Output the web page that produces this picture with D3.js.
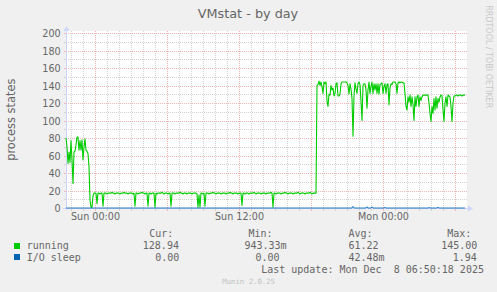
<!DOCTYPE html>
<html><head><meta charset="utf-8">
<script src="https://cdn.jsdelivr.net/npm/d3@7"></script>
<style>
html,body{margin:0;padding:0;background:#F0F0F0;}
svg{display:block;}
text.pre{white-space:pre;}
</style></head><body>
<svg id="chart" width="497" height="292"></svg>
<script>
const title = "VMstat - by day";
const yLabel = "process states";
const seriesNames = ["running", "I/O sleep"];
const seriesColors = ["#00CC00", "#0066B3"];
const startUTC = Date.UTC(2025, 11, 6, 21, 35);
const stepMinutes = 5;

const running = [
80,70,51,64,52,77,55,28,64,65,72,81,81,66,77,66,78,55,70,79,
66,65,62,47,9,1,1,14,17,17,17,5,17,17,16,17,17,2,17,17,
17,16,17,17,17,17,18,17,17,16,17,17,17,17,16,17,17,17,18,17,
17,17,16,17,17,17,17,16,17,2,17,17,16,17,17,17,18,17,17,16,
17,17,2,17,17,16,17,17,17,0.94,17,16,17,17,17,17,18,17,16,17,
17,17,16,17,17,2,17,17,17,16,17,17,17,17,18,17,17,16,17,17,
17,16,17,17,17,17,16,17,17,17,17,16,1,15,1,17,17,16,17,2,
17,17,17,16,17,17,17,18,17,17,16,17,17,17,17,16,17,17,17,17,
16,17,17,17,18,17,17,16,17,17,17,17,16,17,17,17,3,17,17,16,
17,17,17,16,17,17,17,17,18,17,16,17,17,17,17,16,17,17,17,17,
16,17,17,17,17,18,17,1,17,17,16,17,17,17,17,16,17,17,17,18,
17,17,16,17,17,17,17,16,17,17,17,17,18,17,16,17,17,17,17,16,
17,17,17,17,18,17,16,17,17,17,17,140,141,145,140,144,139,131,144,142,
144,122,116,130,129,140,135,137,128,131,142,143,128,128,130,142,144,144,144,144,
144,143,140,130,142,136,125,82,128,143,136,131,142,144,141,122,100,140,142,142,
135,114,135,144,131,139,144,131,142,135,142,131,142,130,141,142,143,131,139,142,
131,141,142,118,137,142,141,144,144,144,142,131,143,144,143,144,144,143,143,131,
116,112,127,121,129,116,127,118,100,127,116,127,129,116,127,123,127,129,129,129,
129,129,129,120,108,99,116,108,125,112,127,114,125,121,127,129,128,112,99,120,
127,116,129,128,127,116,99,120,128,128,129,129,128,129,129,129,128,129,129,128.94
];

const ioSleep = [
0,0,0,0,0,0,0,0,0,0,0,0,0,0,0,0,0,0,0,0,
0,0,0,0,0,0,0,0,0,0,0,0,0,0,0,0,0,0,0,0,
0,0,0,0,0,0,0,0,0,0,0,0,0,0,0,0,0,0,0,0,
0,0,0,0,0,0,0,0,0,0,0,0,0,0,0,0,0,0,0,0,
0,0,0,0,0,0,0,0,0,0,0,0,0,0,0,0,0,0,0,0,
0,0,0,0,0,0,0,0,0,0,0,0,0,0,0,0,0,0,0,0,
0,0,0,0,0,0,0,0,0,0,0,0,0,0,0,0,0,0,0,0,
0,0,0,0,0,0,0,0,0,0,0,0,0,0,0,0,0,0,0,0,
0,0,0,0,0,0,0,0,0,0,0,0,0,0,0,0,0,0,0,0,
0,0,0,0,0,0,0,0,0,0,0,0,0,0,0,0,0,0,0,0,
0,0,0,0,0,0,0,0,0,0,0,0,0,0,0,0,0,0,0,0,
0,0,0,0,0,0,0,0,0,0,0,0,0,0,0,0,0,0,0,0,
0,0,0,0,0,0,0,0,0,0,0,0,0,0,0,0,0,0,0,0,
0,0,0,0,0,0,0,0,0,0,0,0,0,0,0,0,0,0,0,0,
0,0,0,0,0,0,0,1.94,0,0,0,0,0,0,0,0,0,0,0,0,
0,1.5,0,0,0,0,1.4,0,0,0,0,0,0,0,0,0,0,0,0,0.7,
0,0,0,0,0,0,0,0,0,0,0,0,0,0,0,0,0,0,0,0,
0,0,0,0,0,0,0,0,0,0,0,0,0,0,0,0,0,0,0,0,
0,0,0,0.6,0,0,0,0,0,0,0,0,0.9,0,0,0,0,0,0,0,
0,0,0,0,0,0,0,0,0,0,0,0,0,0,0,0,0,0,0,0
];

const yTicks = [0, 20, 40, 60, 80, 100, 120, 140, 160, 180, 200];
const xTickLabels = ["Sun 00:00", "Sun 12:00", "Mon 00:00"];
const xTickTimes = [Date.UTC(2025, 11, 7, 0, 0), Date.UTC(2025, 11, 7, 12, 0), Date.UTC(2025, 11, 8, 0, 0)];
const legendHeader = ["Cur:", "Min:", "Avg:", "Max:"];
const runningStats = ["128.94", "943.33m", "61.22", "145.00"];
const ioSleepStats = ["0.00", "0.00", "42.48m", "1.94"];
const lastUpdate = "Last update: Mon Dec  8 06:50:18 2025";
const version = "Munin 2.0.25";
const watermark = "RRDTOOL / TOBI OETIKER";

const svg = d3.select("#chart");
const W = 497, H = 292;
svg.append("rect").attr("width", W).attr("height", H).attr("fill", "#F0F0F0");

const nSamples = running.length;
const endUTC = startUTC + nSamples * stepMinutes * 60000;
const x = d3.scaleUtc().domain([startUTC, endUTC]).range([66, 466]);
const y = d3.scaleLinear().domain([0, 200]).range([208, 33]);
const tOf = i => startUTC + i * stepMinutes * 60000;

const sans = "'DejaVu Sans', Verdana, sans-serif";
const mono = "'DejaVu Sans Mono', monospace";
const fontCol = "#666666";
const gridCol = "#d2d2d2";
const mgridCol = "#f5b5b5";
const axisCol = "#CFD6F8";

// canvas
svg.append("rect").attr("x", 66).attr("y", 31).attr("width", 401).attr("height", 178).attr("fill", "#FFFFFF");

const snap = v => Math.round(v) + 0.5;
const g = svg.append("g");

// horizontal grid (minor every 10, major every 20)
const hMinor = d3.range(10, 201, 10);
hMinor.forEach(v => {
  const major = v % 20 === 0;
  const yy = snap(y(v));
  g.append("line").attr("x1", 66).attr("x2", 467).attr("y1", yy).attr("y2", yy)
    .attr("stroke", major ? mgridCol : gridCol).attr("stroke-width", 1).attr("stroke-dasharray", "1,1");
  g.append("line").attr("x1", 64).attr("x2", 66).attr("y1", yy).attr("y2", yy)
    .attr("stroke", major ? mgridCol : gridCol).attr("stroke-width", 1);
});

// vertical grid (minor every hour, major every 6 hours)
const hours = d3.utcHour.range(new Date(startUTC), new Date(endUTC + 1));
hours.forEach(h => {
  const major = h.getUTCHours() % 6 === 0;
  const xx = snap(x(h));
  if (xx < 67) return;
  g.append("line").attr("x1", xx).attr("x2", xx).attr("y1", 31).attr("y2", 208)
    .attr("stroke", major ? mgridCol : gridCol).attr("stroke-width", 1).attr("stroke-dasharray", "1,1");
  g.append("line").attr("x1", xx).attr("x2", xx).attr("y1", 209).attr("y2", 211)
    .attr("stroke", major ? mgridCol : gridCol).attr("stroke-width", 1);
});

// axes lines + arrows
svg.append("line").attr("x1", 66.5).attr("x2", 66.5).attr("y1", 210).attr("y2", 29)
  .attr("stroke", axisCol).attr("stroke-width", 1);
svg.append("path").attr("d", "M63.5,31 L69.5,31 L66.5,26 Z").attr("fill", axisCol);
svg.append("line").attr("x1", 63).attr("x2", 469).attr("y1", 208.5).attr("y2", 208.5)
  .attr("stroke", axisCol).attr("stroke-width", 1);
svg.append("path").attr("d", "M468,205.5 L468,211.5 L473,208.5 Z").attr("fill", axisCol);

// y tick labels via axis
const yAxis = d3.axisLeft(y).tickValues(yTicks).tickSize(0).tickPadding(0).tickFormat(d3.format("d"));
const yAxG = svg.append("g").attr("transform", "translate(60.6,0)").call(yAxis);
yAxG.select(".domain").remove();
yAxG.selectAll("text").attr("font-family", sans).attr("font-size", "9.6px").attr("fill", fontCol)
  .attr("dy", null).attr("y", 3.5);

// x tick labels via axis
const xAxis = d3.axisBottom(x).tickValues(xTickTimes.map(t => new Date(t))).tickSize(0).tickPadding(0)
  .tickFormat((d, i) => xTickLabels[i]);
const xAxG = svg.append("g").call(xAxis);
xAxG.select(".domain").remove();
xAxG.selectAll("text").attr("font-family", sans).attr("font-size", "9.6px").attr("fill", fontCol)
  .attr("dy", null).attr("y", 220);

// series lines
const line = d3.line().x((d, i) => x(tOf(i))).y(d => y(d));
svg.append("path").datum(running).attr("d", line).attr("fill", "none")
  .attr("stroke", seriesColors[0]).attr("stroke-width", 1.1).attr("stroke-linejoin", "round");
svg.append("path").datum(ioSleep).attr("d", line).attr("fill", "none")
  .attr("stroke", seriesColors[1]).attr("stroke-width", 1).attr("stroke-linejoin", "round").attr("opacity", 0.85);

// title
svg.append("text").attr("x", 248).attr("y", 18.3).attr("text-anchor", "middle")
  .attr("font-family", sans).attr("font-size", "12.8px").attr("fill", fontCol).text(title);

// y label
svg.append("text").attr("transform", "translate(15,119.7) rotate(-90)").attr("text-anchor", "middle")
  .attr("font-family", sans).attr("font-size", "11.4px").attr("fill", fontCol).text(yLabel);

// watermark
svg.append("text").attr("transform", "translate(486,56.7) rotate(90)").attr("text-anchor", "middle")
  .attr("font-family", sans).attr("font-size", "8px").attr("fill", "#c8c8c8").text(watermark);

// legend
const leg = svg.append("g").attr("font-family", mono).attr("font-size", "10px").attr("fill", fontCol);
const headerX = [149.2, 248.5, 348.5, 447.2];
legendHeader.forEach((t, i) => leg.append("text").attr("x", headerX[i]).attr("y", 237).text(t));

const rowsY = [249, 260.5];
const boxY = [243, 254];
const nameX = 26.7;
const statX = [
  [142.8, 244.5, 348.5, 441.2],
  [155.2, 255.5, 348.5, 452.8]
];
const allStats = [runningStats, ioSleepStats];
seriesNames.forEach((n, r) => {
  svg.append("rect").attr("x", 14).attr("y", boxY[r]).attr("width", 6).attr("height", 6).attr("fill", seriesColors[r]);
  leg.append("text").attr("x", nameX).attr("y", rowsY[r]).text(n);
  allStats[r].forEach((s, i) => leg.append("text").attr("x", statX[r][i]).attr("y", rowsY[r]).text(s));
});
leg.append("text").attr("class", "pre").attr("xml:space", "preserve")
  .attr("x", 261.2).attr("y", 273.3).text(lastUpdate);

svg.append("text").attr("x", 222.3).attr("y", 284).attr("font-family", mono).attr("font-size", "7.3px")
  .attr("fill", "#c0c0c0").text(version);
</script>
</body></html>
